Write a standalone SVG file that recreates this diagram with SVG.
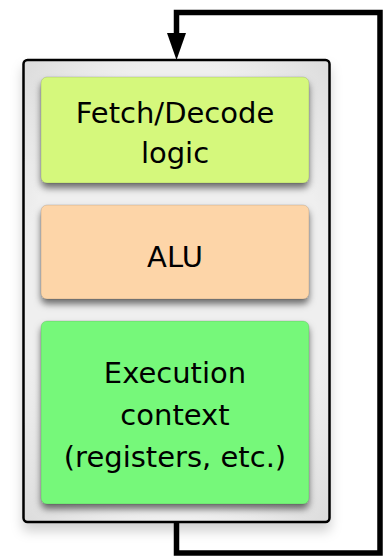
<svg xmlns="http://www.w3.org/2000/svg" width="384" height="557" viewBox="0 0 384 557">
  <defs>
    <filter id="outerShadow" x="-20%" y="-10%" width="140%" height="125%">
      <feDropShadow dx="0" dy="8" stdDeviation="6" flood-color="#000" flood-opacity="0.18"/>
    </filter>
    <filter id="boxShadow" x="-10%" y="-10%" width="120%" height="140%">
      <feDropShadow dx="0" dy="5" stdDeviation="3.5" flood-color="#000" flood-opacity="0.55"/>
    </filter>
    <radialGradient id="containerFill" cx="50%" cy="50%" r="70%">
      <stop offset="0.7" stop-color="#efefef"/>
      <stop offset="1" stop-color="#dcdcdc"/>
    </radialGradient>
  </defs>
  <style>
    .label { font-family: "DejaVu Sans", "Liberation Sans", sans-serif; font-size: 29px; fill: #000; text-anchor: middle; }
    .box { stroke: #000; stroke-opacity: 0.12; stroke-width: 1; filter: url(#boxShadow); }
    .wire { fill: none; stroke: #000; stroke-width: 5.5; stroke-linejoin: miter; }
  </style>
  <rect width="384" height="557" fill="#fff"/>

  <g id="core">
    <rect x="23.5" y="60" width="306" height="462" rx="4" fill="url(#containerFill)" stroke="#000" stroke-width="2.5" filter="url(#outerShadow)"/>
  </g>

  <g id="connectors">
    <path class="wire" d="M176.5,522 V553 H380 V12.5 H176.5 V36"/>
    <polygon points="167,33 186,33 176.5,60" fill="#000"/>
  </g>

  <g id="fetch-decode">
    <rect class="box" x="41" y="77" width="268" height="106" rx="6" fill="#d5f87c"/>
    <text class="label" x="175" y="123">Fetch/Decode</text>
    <text class="label" x="175" y="163">logic</text>
  </g>

  <g id="alu">
    <rect class="box" x="41" y="205" width="268" height="94" rx="6" fill="#fdd5a8"/>
    <text class="label" x="175" y="267">ALU</text>
  </g>

  <g id="execution-context">
    <rect class="box" x="41" y="321" width="268" height="183" rx="6" fill="#76f87a"/>
    <text class="label" x="175" y="383">Execution</text>
    <text class="label" x="175" y="425">context</text>
    <text class="label" x="175" y="467">(registers, etc.)</text>
  </g>
</svg>
